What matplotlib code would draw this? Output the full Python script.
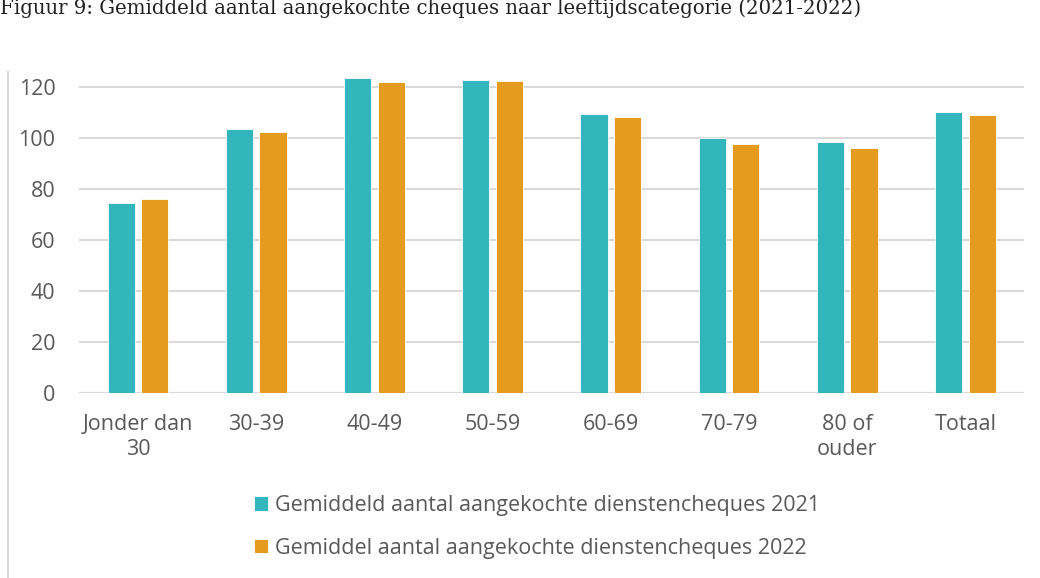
import numpy as np
import matplotlib.pyplot as plt

categories = ["Jonder dan\n30", "30-39", "40-49", "50-59", "60-69", "70-79", "80 of\nouder", "Totaal"]
vals_2021 = [74.4, 103.7, 123.5, 123.0, 109.6, 100.0, 98.6, 110.2]
vals_2022 = [76.0, 102.4, 122.2, 122.6, 108.5, 97.7, 96.0, 109.0]
label_2021 = "Gemiddeld aantal aangekochte dienstencheques 2021"
label_2022 = "Gemiddel aantal aangekochte dienstencheques 2022"
title = "Figuur 9: Gemiddeld aantal aangekochte cheques naar leeftijdscategorie (2021-2022)"

teal = "#33b6bb"
orange = "#e59b20"
grey = "#595959"

plt.rcParams['font.family'] = ['Open Sans', 'DejaVu Sans']

fig = plt.figure(figsize=(10.4, 5.78), dpi=100)
ax = fig.add_axes([0.076, 0.3206, 0.909, 0.5724])

x = np.arange(len(categories))
w = 0.23
off = 0.142
ax.bar(x - off, vals_2021, w, color=teal, edgecolor="white", linewidth=0.6, label=label_2021, zorder=3)
ax.bar(x + off, vals_2022, w, color=orange, edgecolor="white", linewidth=0.6, label=label_2022, zorder=3)

ax.set_xlim(-0.5, len(categories) - 0.5)
ax.set_ylim(0, 130)
ax.set_yticks(np.arange(0, 121, 20))
ax.grid(axis="y", color="#d9d9d9", linewidth=1.5, zorder=0)
ax.set_axisbelow(True)
for s in ax.spines.values():
    s.set_visible(False)
ax.axhline(0, color="#d9d9d9", linewidth=1.5, zorder=1)
ax.set_xticks(x)
ax.set_xticklabels(categories, fontsize=15.5, color=grey, linespacing=1.3)
ax.tick_params(axis="y", labelsize=15.5, labelcolor=grey, length=0, pad=17)
ax.tick_params(axis="x", length=0, pad=15)

# left frame line of the chart box
fig.add_artist(plt.Line2D([8 / 1040, 8 / 1040], [0, 1 - 72 / 578], color="#d9d9d9", linewidth=1.5))

fig.text(0.0, 1 - 8 / 578, title, fontsize=14.2, family="DejaVu Serif", color="#222222", va="center", ha="left")

leg = fig.legend(loc="center", bbox_to_anchor=(537 / 1040, 1 - 527 / 578), ncol=1, frameon=False,
                 fontsize=15.5, handlelength=0.65, handleheight=0.65, handletextpad=0.3, labelspacing=1.0)
for t in leg.get_texts():
    t.set_color(grey)

fig.savefig("out.png", dpi=100)
